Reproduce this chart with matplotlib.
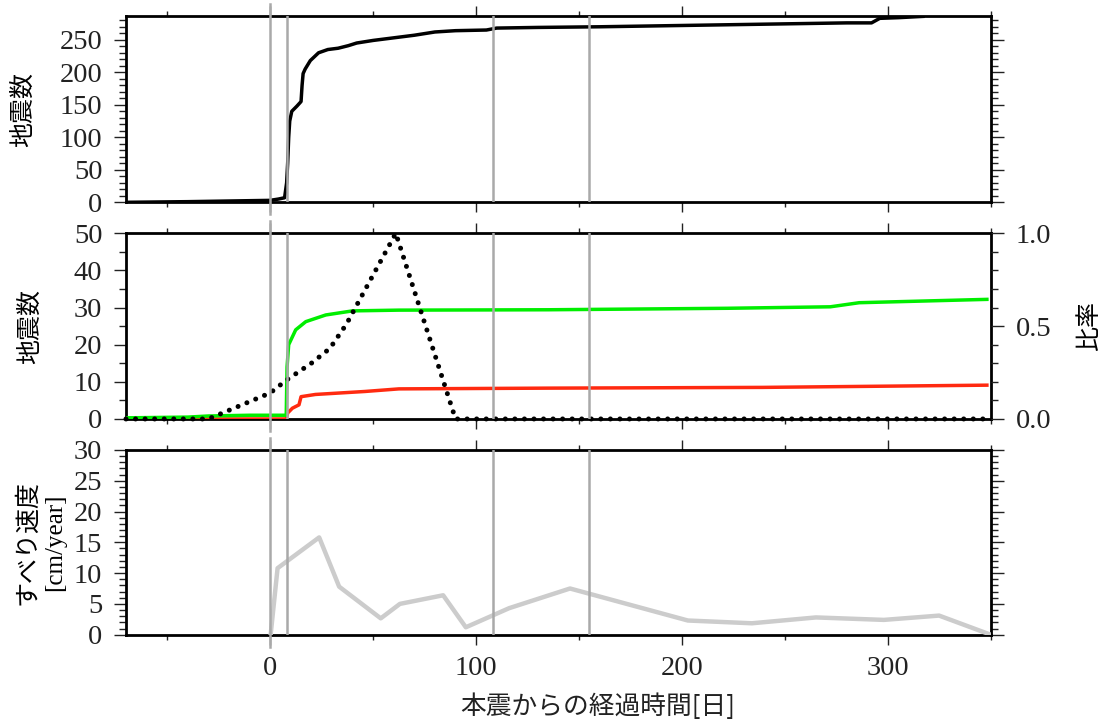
import matplotlib
matplotlib.use("Agg")
import matplotlib.pyplot as plt
from matplotlib.ticker import MultipleLocator, FormatStrFormatter

plt.rcParams['font.family'] = ['Liberation Serif', 'Noto Sans CJK JP']

#------------------------------------------------------------
# values (days after the main shock)
event_days = [0, 8, 108, 155]

quake_day = [-70, -40, -20, 0, 4, 7, 8, 8.5, 9, 9.5, 10.5, 13, 15, 15.5, 16, 17,
             19.5, 23.5, 28, 33, 38, 42, 50, 60, 70, 80, 90, 105, 110, 130, 160,
             200, 240, 280, 292, 296, 305, 317]
quake_count = [0, 1, 2, 3, 5, 7, 30, 60, 100, 125, 140, 148, 155, 180, 198, 205,
               218, 230, 235, 237, 241, 245, 249, 253, 257, 262, 264, 265, 268,
               269, 270, 272, 274, 276, 276, 283, 284, 286]

green_day = [-70, -40, -30, -10, 7.8, 8.2, 9, 12.4, 17.3, 27, 40, 62.5, 135, 222,
             272, 286, 348]
green_count = [0.3, 0.5, 0.8, 1.0, 1.0, 14, 20, 24, 26.2, 28, 29.1, 29.3, 29.4,
               29.8, 30.2, 31.3, 32.2]

red_day = [-70, 7.8, 8.5, 10.8, 14, 15, 22, 46, 62.5, 135, 239, 348]
red_count = [0, 0, 1.6, 2.9, 3.8, 6.0, 6.6, 7.4, 8.1, 8.3, 8.5, 9.1]

ratio_day = [-70, -30, 0, 8, 20, 29, 37, 61, 90, 350]
ratio_val = [0, 0, 0.14, 0.21, 0.3, 0.38, 0.51, 1.0, 0.0, 0.0]

slip_day = [0.3, 3.6, 23.8, 33.5, 53.7, 63, 84, 95, 116, 145.6, 202.8, 233.9, 265,
            298, 324.8, 349]
slip_rate = [0.2, 10.8, 15.8, 7.8, 2.65, 5.0, 6.4, 1.2, 4.3, 7.5, 2.3, 1.85, 2.8,
             2.4, 3.1, 0.1]

vline_color = '#a9a9a9'
tick_color = '#222222'
tick_size = 20.5


def style(ax, ymajor, yminor, right=True):
    ax.set_xlim(-70, 350)
    ax.xaxis.set_major_locator(MultipleLocator(100))
    ax.xaxis.set_minor_locator(MultipleLocator(50))
    ax.yaxis.set_major_locator(MultipleLocator(ymajor))
    ax.yaxis.set_minor_locator(MultipleLocator(yminor))
    ax.tick_params(axis='x', which='both', direction='out', top=True, bottom=True,
                   labelbottom=False, width=1, color=tick_color,
                   labelsize=tick_size, labelcolor=tick_color, pad=8)
    ax.tick_params(axis='x', which='major', length=7.5)
    ax.tick_params(axis='x', which='minor', length=3.6)
    ax.tick_params(axis='y', which='both', direction='out', left=True, right=right,
                   width=1, color=tick_color, labelsize=tick_size,
                   labelcolor=tick_color, pad=8)
    ax.tick_params(axis='y', which='major', length=9)
    ax.tick_params(axis='y', which='minor', length=5)
    for s in ax.spines.values():
        s.set_linewidth(2)


def vlines(ax):
    for d in event_days:
        if d == 0:
            ax.axvline(d, ymin=-0.065, ymax=1.065, color=vline_color, lw=1.8,
                       clip_on=False, zorder=4)
        else:
            ax.axvline(d, color=vline_color, lw=1.8, zorder=4)


fig = plt.figure(figsize=(11.11, 7.28), dpi=100)
ax1 = fig.add_axes([0.1134, 0.7221, 0.7786, 0.2563])
ax2 = fig.add_axes([0.1134, 0.4245, 0.7786, 0.2551])
ax3 = fig.add_axes([0.1134, 0.1282, 0.7786, 0.2537])

#------------------------------------------------------------
# top: cumulative number of earthquakes
ax1.plot(quake_day, quake_count, color='black', lw=2.5, zorder=3)
ax1.set_ylim(0, 287)
style(ax1, 50, 10)
vlines(ax1)
ax1.set_ylabel('地震数', fontsize=18)

#------------------------------------------------------------
# middle: counts and ratio
ax2.plot(red_day, red_count, color='#ff2a10', lw=2.5, zorder=3)
ax2.plot(green_day, green_count, color='#00ee00', lw=2.5, zorder=3)
ax2.set_ylim(0, 50)
style(ax2, 10, 5, right=False)
ax2.set_ylabel('地震数', fontsize=18)

ax2r = ax2.twinx()
ax2r.plot(ratio_day, ratio_val, color='black', lw=3.6, linestyle=(0, (0.01, 1.9)),
          dash_capstyle='round', clip_on=False, zorder=3)
ax2r.set_ylim(0, 1)
ax2r.yaxis.set_major_locator(MultipleLocator(0.5))
ax2r.yaxis.set_minor_locator(MultipleLocator(0.1))
ax2r.yaxis.set_major_formatter(FormatStrFormatter('%.1f'))
ax2r.tick_params(axis='y', which='both', direction='out', width=1, color=tick_color,
                 labelsize=tick_size, labelcolor=tick_color, pad=9)
ax2r.tick_params(axis='y', which='major', length=9)
ax2r.tick_params(axis='y', which='minor', length=5)
for s in ax2r.spines.values():
    s.set_visible(False)
vlines(ax2r)
ax2r.set_ylabel('比率', fontsize=18, rotation=90)
ax2r.yaxis.set_label_coords(1.1145, 0.5)
ax2r.yaxis.label.set_va('center')

#------------------------------------------------------------
# bottom: slip rate
ax3.plot(slip_day, slip_rate, color='#cccccc', lw=3.2, zorder=3)
ax3.set_ylim(0, 30)
style(ax3, 5, 1)
ax3.tick_params(axis='x', labelbottom=True)
vlines(ax3)
ax3.set_ylabel('すべり速度\n[cm/year]', fontsize=18, linespacing=1.3)

for ax, xc in [(ax1, -0.1187), (ax2, -0.11), (ax3, -0.098)]:
    ax.yaxis.set_label_coords(xc, 0.5)
    ax.yaxis.label.set_va('center')

fig.text(598 / 1111, 1 - 707 / 728, '本震からの経過時間[日]', fontsize=18.5,
         family='Noto Sans CJK JP', ha='center', va='center', color='#222222')

fig.savefig('out.png', dpi=100)
